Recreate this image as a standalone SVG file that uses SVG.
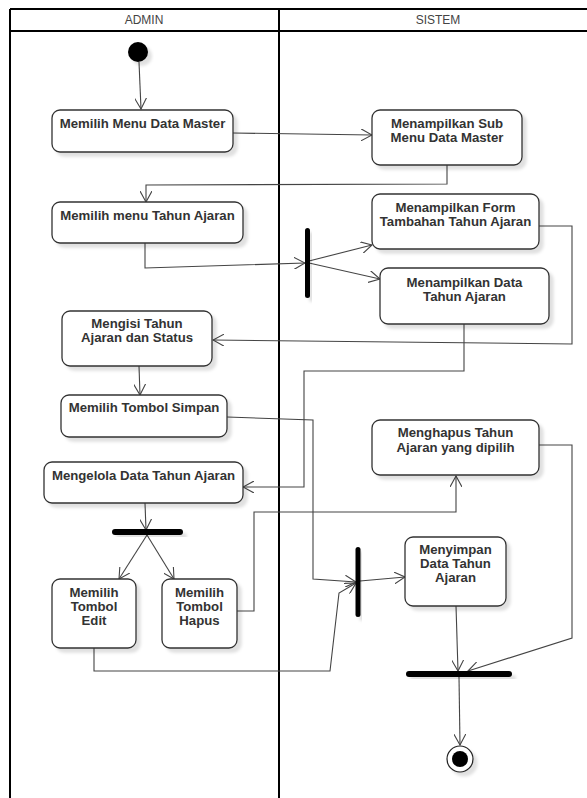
<svg xmlns="http://www.w3.org/2000/svg" width="587" height="798" viewBox="0 0 587 798">
<style>
.lane{stroke:#000;stroke-width:2;fill:none}
.hdr{font-family:"Liberation Sans",Arial,sans-serif;font-size:12px;fill:#444;text-anchor:middle}
.node rect{fill:#fff;stroke:#333;stroke-width:1.3;filter:url(#sh)}
.node text{font-family:"Liberation Sans",Arial,sans-serif;font-size:13.2px;font-weight:bold;fill:#333;text-anchor:middle}
.bar{fill:#000;filter:url(#sh)}
#connectors path{fill:none;stroke:#444;stroke-width:1.1;marker-end:url(#arr)}
</style>
<defs>
<filter id="sh" x="-20%" y="-20%" width="150%" height="150%">
<feDropShadow dx="4" dy="4" stdDeviation="1.5" flood-color="#000" flood-opacity="0.12"/>
</filter>
<marker id="arr" viewBox="0 0 12 12" refX="11" refY="6" markerWidth="12" markerHeight="12" markerUnits="userSpaceOnUse" orient="auto">
<path d="M0,0 L11,6 L0,12" fill="none" stroke="#444" stroke-width="1.1"/>
</marker>
</defs>
<rect width="587" height="798" fill="#fff"/>
<g id="lanes">
<path class="lane" d="M10,9 H587 M10,31 H587 M10,9 V798 M279,9 V798"/>
<text class="hdr" x="144" y="24">ADMIN</text>
<text class="hdr" x="438" y="24">SISTEM</text>
</g>
<g id="connectors">
<path d="M139,62 L141,109"/>
<path d="M233,133 L372,135"/>
<path d="M447,165 L447,184 L146,185 L146,202"/>
<path d="M145,243 L145,268 L305,263"/>
<path d="M309,261 L372,245"/>
<path d="M309,263 L380,279"/>
<path d="M539,226 L572,226 L572,344 L213,340"/>
<path d="M464,324 L464,371 L304,371 L304,487 L243,487"/>
<path d="M139,366 L140,395"/>
<path d="M227,417 L313,420 L313,579 L356,582"/>
<path d="M145,503 L146,530"/>
<path d="M147,535 L119,579"/>
<path d="M147,535 L174,579"/>
<path d="M237,611 L254,611 L254,512 L456,512 L456,476"/>
<path d="M94,648 L94,671 L330,671 L339,593 L356,583"/>
<path d="M360,581 L405,577"/>
<path d="M539,445 L572,445 L572,638 L468,671"/>
<path d="M456,606 L458,671"/>
<path d="M459,677 L460,745"/>
</g>
<g id="start"><circle cx="138" cy="52" r="10" fill="#000" filter="url(#sh)"/></g>
<g id="n1" class="node"><rect x="52" y="110" width="181" height="42" rx="8"/><text x="142.5" y="128">Memilih Menu Data Master</text></g>
<g id="n2" class="node"><rect x="372" y="110" width="150" height="55" rx="8"/><text x="447" y="128">Menampilkan Sub</text><text x="447" y="142">Menu Data Master</text></g>
<g id="n3" class="node"><rect x="52" y="202" width="191" height="41" rx="8"/><text x="147.5" y="220">Memilih menu Tahun Ajaran</text></g>
<g id="fork1"><rect class="bar" x="305" y="228" width="5" height="70" rx="2.5"/></g>
<g id="n4" class="node"><rect x="372" y="194" width="167" height="55" rx="8"/><text x="455.5" y="212">Menampilkan Form</text><text x="455.5" y="226">Tambahan Tahun Ajaran</text></g>
<g id="n5" class="node"><rect x="380" y="268" width="169" height="56" rx="8"/><text x="464.5" y="287">Menampilkan Data</text><text x="464.5" y="301">Tahun Ajaran</text></g>
<g id="n6" class="node"><rect x="62" y="311" width="150" height="55" rx="8"/><text x="137" y="328">Mengisi Tahun</text><text x="137" y="342">Ajaran dan Status</text></g>
<g id="n7" class="node"><rect x="61" y="395" width="166" height="42" rx="8"/><text x="144" y="412">Memilih Tombol Simpan</text></g>
<g id="n8" class="node"><rect x="44" y="462" width="199" height="41" rx="8"/><text x="143.5" y="480">Mengelola Data Tahun Ajaran</text></g>
<g id="fork2"><rect class="bar" x="112" y="529" width="71" height="6" rx="3"/></g>
<g id="n9" class="node"><rect x="52" y="579" width="84" height="69" rx="8"/><text x="94" y="597">Memilih</text><text x="94" y="611">Tombol</text><text x="94" y="625">Edit</text></g>
<g id="n10" class="node"><rect x="162" y="579" width="75" height="69" rx="8"/><text x="199.5" y="597">Memilih</text><text x="199.5" y="611">Tombol</text><text x="199.5" y="625">Hapus</text></g>
<g id="n11" class="node"><rect x="372" y="420" width="167" height="55" rx="8"/><text x="455.5" y="437">Menghapus Tahun</text><text x="455.5" y="452">Ajaran yang dipilih</text></g>
<g id="join1"><rect class="bar" x="355.5" y="547" width="5" height="70" rx="2.5"/></g>
<g id="n12" class="node"><rect x="405" y="537" width="101" height="69" rx="8"/><text x="455.5" y="554">Menyimpan</text><text x="455.5" y="568">Data Tahun</text><text x="455.5" y="582">Ajaran</text></g>
<g id="join2"><rect class="bar" x="406" y="671" width="106" height="6" rx="3"/></g>
<g id="end"><circle cx="460" cy="759" r="13" fill="#fff" stroke="#222" stroke-width="1.2" filter="url(#sh)"/><circle cx="460" cy="759" r="8" fill="#000"/></g>
</svg>
